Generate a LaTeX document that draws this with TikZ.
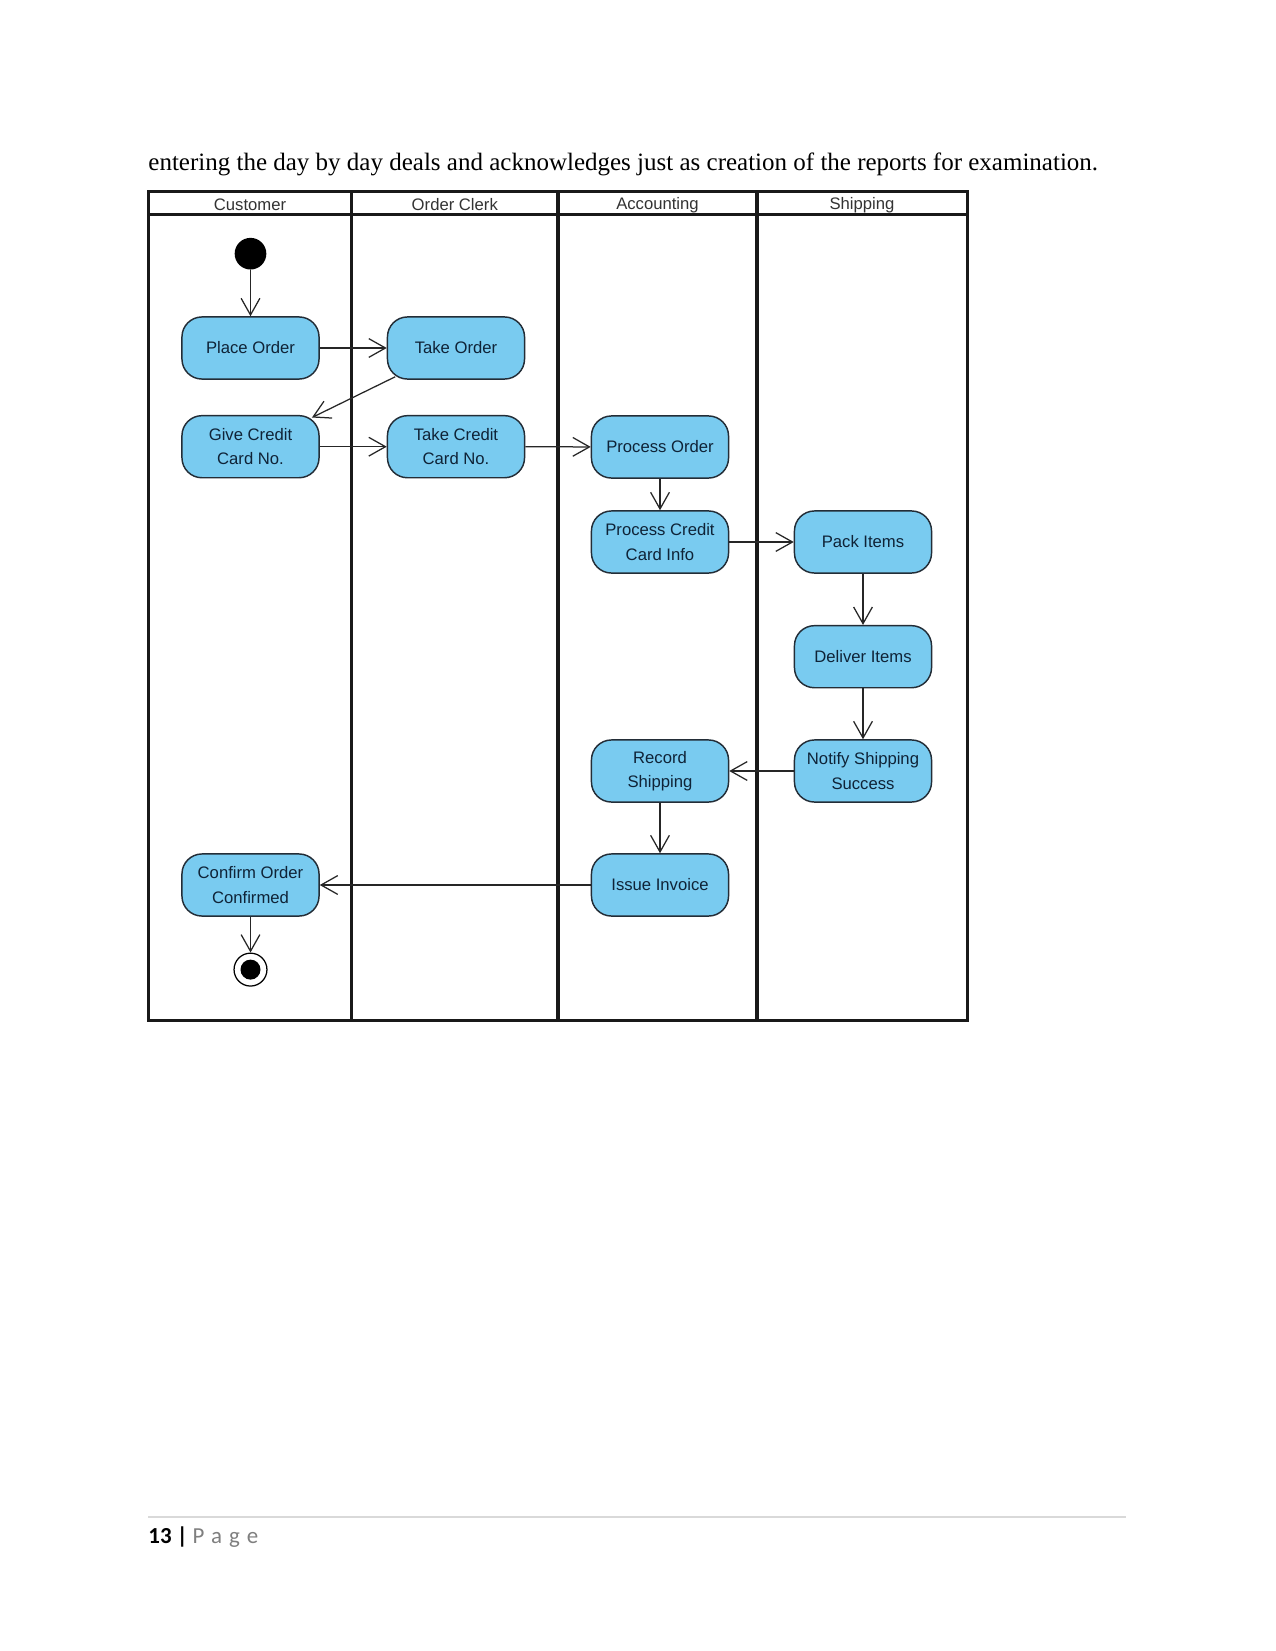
\documentclass[tikz,border=0pt]{standalone}
\usepackage{fontspec}
\setmainfont{Liberation Serif}
\setsansfont{Liberation Sans}
\newfontfamily\footfont{Carlito}
\usetikzlibrary{arrows.meta,calc}
\definecolor{actfill}{RGB}{121,203,240}
\definecolor{actdraw}{RGB}{35,45,55}
\definecolor{acttext}{RGB}{15,35,55}
\definecolor{pagegray}{RGB}{127,127,127}
\begin{document}
\begin{tikzpicture}[x=0.48pt,y=-0.48pt,
  act/.style={draw=actdraw, fill=actfill, line width=0.7pt, rounded corners=9.6pt,
    minimum width=65.8pt, minimum height=29.8pt, align=center, inner sep=0pt,
    text=acttext, font=\sffamily\fontsize{8}{11.6}\selectfont},
  flow/.style={draw=black!85, line width=0.6pt, -{Straight Barb[length=8pt,width=9pt]}},
  lane/.style={line width=1.5pt, draw=black!90},
  lanehead/.style={font=\sffamily\fontsize{8}{10}\selectfont, text=black!80, inner sep=0pt},
  startnode/.style={circle, fill=black, minimum size=15.2pt, inner sep=0pt},
  endnode/.style={circle, draw=black, fill=white, line width=0.6pt, minimum size=15.8pt, inner sep=0pt,
    path picture={\fill[black] (path picture bounding box.center) circle (4.8pt);}}]

\useasboundingbox[fill=white] (0,0) rectangle (1275,1651);

% body text
\node[anchor=base west, inner sep=0pt, font=\fontsize{12}{14}\selectfont] (intro) at (148,171)
  {entering the day by day deals and acknowledges just as creation of the reports for examination.};

% swimlanes
\draw[lane] (148.4,191.6) rectangle (967.5,1020.2);
\draw[lane] (148.4,214.8) -- (967.5,214.8);
\draw[lane] (351.6,191.6) -- (351.6,1020.2);
\draw[lane] (558,191.6) -- (558,1020.2);
\draw[lane] (757,191.6) -- (757,1020.2);

\node[lanehead] (h1) at (250,205) {Customer};
\node[lanehead] (h2) at (454.8,205) {Order Clerk};
\node[lanehead] (h3) at (657.5,205) {Accounting};
\node[lanehead] (h4) at (862,205) {Shipping};

% activities
\node[startnode] (start) at (250.5,253.7) {};
\node[act] (place) at (250.5,348) {Place Order};
\node[act] (take) at (456,348) {Take Order};
\node[act] (give) at (250.5,446.7) {Give Credit\\Card No.};
\node[act] (takecc) at (456,446.7) {Take Credit\\Card No.};
\node[act] (proc) at (660,447) {Process Order};
\node[act] (pcc) at (660,542) {Process Credit\\Card Info};
\node[act] (pack) at (863,542) {Pack Items};
\node[act] (deliver) at (863,656.7) {Deliver Items};
\node[act] (notify) at (863,771) {Notify Shipping\\Success};
\node[act] (record) at (660,771) {Record\\Shipping};
\node[act] (invoice) at (660,885) {Issue Invoice};
\node[act] (confirm) at (250.5,885) {Confirm Order\\Confirmed};
\node[endnode] (finish) at (250.5,969.6) {};

% flows
\draw[flow] (start) -- (place);
\draw[flow] (place) -- (take);
\draw[flow] ([shift={(8.5,-3)}]take.south west) -- ([shift={(-7.8,2.6)}]give.north east);
\draw[flow] (give) -- (takecc);
\draw[flow] (takecc) -- (proc);
\draw[flow] (proc) -- (pcc);
\draw[flow] (pcc) -- (pack);
\draw[flow] (pack) -- (deliver);
\draw[flow] (deliver) -- (notify);
\draw[flow] (notify) -- (record);
\draw[flow] (record) -- (invoice);
\draw[flow] (invoice) -- (confirm);
\draw[flow] (confirm) -- (finish);

% footer
\coordinate (fl) at (148,1517);
\coordinate (fr) at (1126,1517);
\draw[draw=black!15, line width=0.6pt] (fl) -- (fr);
\node[anchor=base west, inner sep=0pt, font=\footfont\fontsize{11}{13}\selectfont] (foot) at (148,1543)
  {\textbf{13} \textbf{|}\hspace{2.3pt}\textcolor{pagegray}{P\hspace{3.3pt}a\hspace{3.3pt}g\hspace{3.3pt}e}};
\end{tikzpicture}
\end{document}
